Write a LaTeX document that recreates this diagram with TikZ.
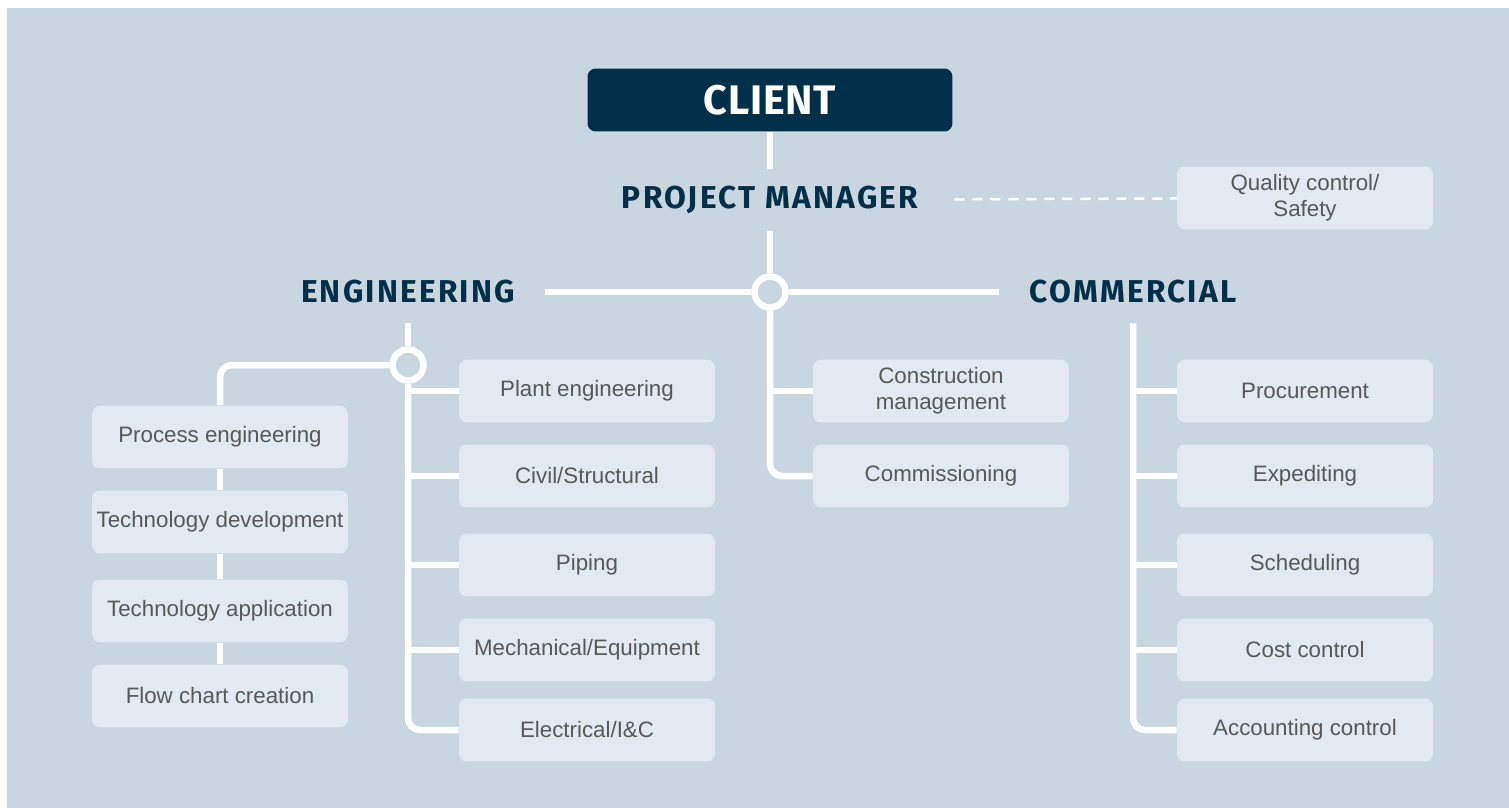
\documentclass[tikz,border=0pt]{standalone}
\usepackage{fontspec}
\setmainfont{Liberation Sans}
\newfontfamily\headfont[LetterSpace=7]{Fira Sans}
\newfontfamily\clientfont[LetterSpace=2]{Fira Sans}
\definecolor{navy}{HTML}{003049}
\definecolor{bgcol}{HTML}{C9D6DF}
\definecolor{boxcol}{HTML}{E2E9F0}
\definecolor{txtcol}{HTML}{585858}
\tikzset{
  unit/.style={rectangle,rounded corners=0.16cm,fill=boxcol,text=txtcol,
    minimum width=5.12cm,minimum height=1.26cm,align=center,inner sep=1pt,
    font=\fontsize{12.7}{14.7}\selectfont},
  head/.style={text=navy,minimum height=1.24cm,inner xsep=0.6cm,
    font=\headfont\bfseries\fontsize{18}{20}\selectfont},
  trunk/.style={draw=white,line width=0.13cm},
  hub/.style={circle,draw=white,fill=bgcol,line width=0.13cm,minimum size=0.62cm,inner sep=0pt}
}
\begin{document}
\begin{tikzpicture}[x=0.02cm,y=-0.02cm]
    \fill[white] (0,0) rectangle (1509,808);
    \fill[bgcol] (7,8) rectangle (1509,808);
    \useasboundingbox (0,0) rectangle (1509,808);
    \node [rectangle,rounded corners=0.16cm,fill=navy,text=white,
      minimum width=7.3cm,minimum height=1.26cm,
      font=\clientfont\bfseries\fontsize{23.5}{26}\selectfont] (client) at (770,100) {CLIENT};
    \node [head,inner xsep=0.72cm] (pm) at (770,200) {PROJECT MANAGER};
    \node [head] (eng) at (408,292) {ENGINEERING};
    \node [head] (com) at (1133,292) {COMMERCIAL};
    \node [unit] (qc) at (1305,198) {Quality control/\\Safety};
    \node [hub] (hub) at (770,292) {};
    \node [hub] (ehub) at (408,365) {};
    % engineering
    \node [unit] (plant) at (587,391) {Plant engineering};
    \node [unit] (civil) at (587,476) {Civil/Structural};
    \node [unit] (piping) at (587,565) {Piping};
    \node [unit] (mech) at (587,650) {Mechanical/Equipment};
    \node [unit] (elec) at (587,730) {Electrical/I\&C};
    \node [unit] (proc) at (220,437) {Process engineering};
    \node [unit] (tdev) at (220,522) {Technology development};
    \node [unit] (tapp) at (220,611) {Technology application};
    \node [unit] (flow) at (220,696) {Flow chart creation};
    % construction
    \node [unit] (cm) at (941,391) {Construction\\management};
    \node [unit] (comm) at (941,476) {Commissioning};
    % commercial
    \node [unit] (procu) at (1305,391) {Procurement};
    \node [unit] (expe) at (1305,476) {Expediting};
    \node [unit] (sched) at (1305,565) {Scheduling};
    \node [unit] (cost) at (1305,650) {Cost control};
    \node [unit] (acct) at (1305,730) {Accounting control};
    \draw [trunk] (client) -- (pm) -- (hub);
    \draw [white,line width=0.05cm,dash pattern=on 0.2cm off 0.16cm] (pm) -- (qc);
    \draw [trunk] (eng) -- (hub) -- (com);
    \draw [trunk] (eng) -- (ehub);
    \draw [trunk,rounded corners=0.24cm] (ehub) |- (elec.west);
    \draw [trunk,rounded corners=0.24cm] (ehub) -| (proc);
    \draw [trunk] (proc) -- (tdev) -- (tapp) -- (flow);
    \foreach \n in {plant,civil,piping,mech}
      \draw [trunk] (ehub |- \n) -- (\n.west);
    \draw [trunk,rounded corners=0.24cm] (hub) |- (comm.west);
    \draw [trunk] (hub |- cm) -- (cm.west);
    \draw [trunk,rounded corners=0.24cm] (com) |- (acct.west);
    \foreach \n in {procu,expe,sched,cost}
      \draw [trunk] (com |- \n) -- (\n.west);
\end{tikzpicture}
\end{document}
